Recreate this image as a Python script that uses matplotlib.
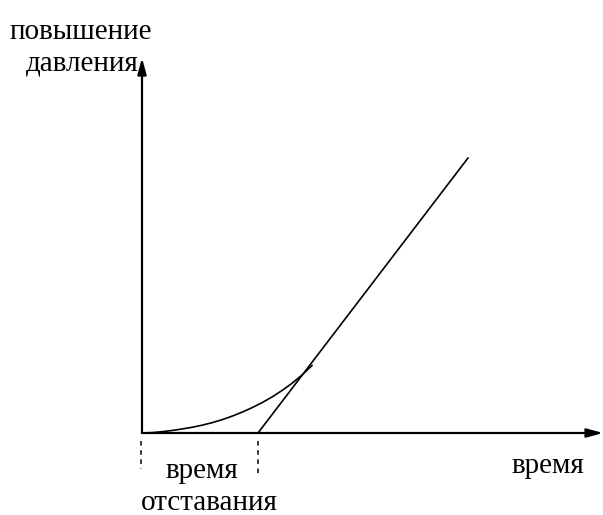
import matplotlib.pyplot as plt

plt.rcParams['font.family'] = ['Liberation Serif', 'DejaVu Serif']

# pressure build-up curve (arbitrary units)
curve_time = [0.0, 1.0, 2.0, 3.0, 4.0, 5.0, 6.0, 7.0, 8.0, 9.0,
              10.0, 11.0, 12.0, 13.0, 14.0, 15.0, 16.0, 17.0]
curve_pressure = [0.0, 0.04, 0.13, 0.25, 0.40, 0.57, 0.78, 1.03, 1.33, 1.68,
                  2.08, 2.53, 3.03, 3.6, 4.25, 4.97, 5.8, 6.75]

# straight asymptote, it crosses the time axis at the lag time
lag_time = 11.6
line_time = [lag_time, 32.6]
line_pressure = [0.0, 27.5]

x_max = 46.1
y_max = 37.5

fig = plt.figure(figsize=(6.03, 5.15), dpi=100)
ax = fig.add_axes([0, 0, 1, 1])
ax.set_xlim(-14.2, 46.1)
ax.set_ylim(-8.2, 43.3)
ax.axis('off')

arrow = dict(arrowstyle='-|>,head_length=0.8,head_width=0.22', color='black',
             lw=1.6, mutation_scale=12, shrinkA=0, shrinkB=0)
ax.annotate('', xy=(x_max, 0), xytext=(0, 0), arrowprops=arrow)
ax.annotate('', xy=(0, y_max), xytext=(0, 0), arrowprops=arrow)

ax.plot(curve_time, curve_pressure, color='black', lw=1.2)
ax.plot(line_time, line_pressure, color='black', lw=1.2)

# dashed ticks marking the lag interval
ax.plot([-0.1, -0.1], [-0.8, -3.6], color='black', lw=1.1, ls=(0, (3, 3)))
ax.plot([lag_time, lag_time], [-0.8, -4.1], color='black', lw=1.1, ls=(0, (3, 3)))

fs = 21
ax.text(-6.1, 39.4, 'повышение', fontsize=fs, ha='center', va='baseline')
ax.text(-6.0, 36.3, 'давления', fontsize=fs, ha='center', va='baseline')
ax.text(5.95, -4.5, 'время', fontsize=fs, ha='center', va='baseline')
ax.text(6.7, -7.75, 'отставания', fontsize=fs, ha='center', va='baseline')
ax.text(40.6, -4.0, 'время', fontsize=fs, ha='center', va='baseline')

fig.savefig('out.png', dpi=100)
